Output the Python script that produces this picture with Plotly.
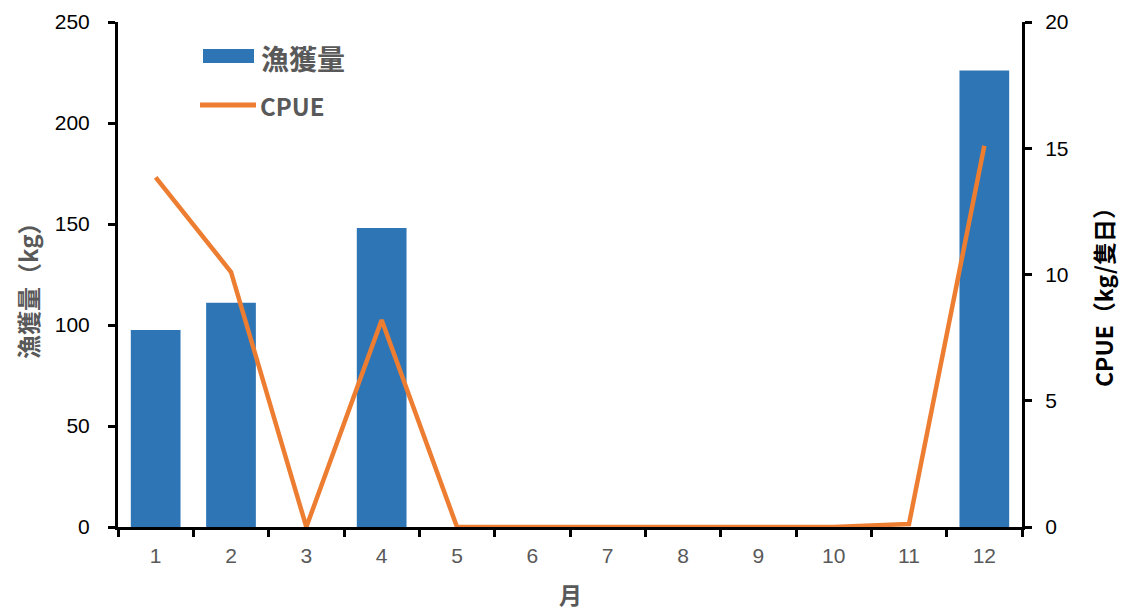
import plotly.graph_objects as go

months = ["1", "2", "3", "4", "5", "6", "7", "8", "9", "10", "11", "12"]
catch_kg = [97.5, 111, 0, 148, 0, 0, 0, 0, 0, 0, 0, 226]
cpue = [13.85, 10.1, 0, 8.2, 0, 0, 0, 0, 0.02, 0, 0.12, 15.1]

BLUE = "#2E75B6"
ORANGE = "#ED7D31"
GRAY = "#595959"
CJK = "Noto Sans CJK TC"
LAT = "Liberation Sans"

L, R, T, B = 118, 99, 22, 84
W, H = 1121, 611
PW, PH = 1022 - 118, 527 - 22


def px(xp):
    return (xp - 118) / PW


def py(yp):
    return (527 - yp) / PH


fig = go.Figure()
fig.add_trace(go.Bar(x=months, y=catch_kg, name="漁獲量", marker_color=BLUE,
                     marker_line_width=0, width=0.66, yaxis="y"))
fig.add_trace(go.Scatter(x=months, y=cpue, name="CPUE", mode="lines",
                         line=dict(color=ORANGE, width=4.5), yaxis="y2"))

fig.update_layout(
    width=W, height=H,
    margin=dict(l=L, r=R, t=T, b=B),
    plot_bgcolor="white", paper_bgcolor="white",
    showlegend=False,
    xaxis=dict(type="category", tickson="boundaries", ticks="outside", ticklen=7,
               tickwidth=3, tickcolor="black", showline=True, linecolor="black",
               linewidth=3, showgrid=False, automargin=False, ticklabelstandoff=8,
               tickfont=dict(family=LAT, size=21, color=GRAY)),
    yaxis=dict(range=[0, 250], dtick=50, ticks="outside", ticklen=7, tickwidth=3,
               tickcolor="black", showline=True, linecolor="black", linewidth=3,
               showgrid=False, zeroline=False, automargin=False, ticklabelstandoff=14,
               tickfont=dict(family=LAT, size=21, color="black")),
    yaxis2=dict(range=[0, 20], dtick=5, overlaying="y", side="right", ticks="outside",
                ticklen=7, tickwidth=3, tickcolor="black", showline=True,
                linecolor="black", linewidth=3, showgrid=False, zeroline=False,
                automargin=False, ticklabelstandoff=9,
                tickfont=dict(family=LAT, size=21, color="black")),
)

# axis titles
fig.add_annotation(xref="paper", yref="paper", x=px(27), y=py(285), textangle=-90,
                   xanchor="center", yanchor="middle", showarrow=False,
                   text="<b>漁獲量（kg）</b>", font=dict(family=CJK, size=24, color=GRAY))
fig.add_annotation(xref="paper", yref="paper", x=px(1103), y=py(292), textangle=-90,
                   xanchor="center", yanchor="middle", showarrow=False,
                   text="<b>CPUE（kg/隻日）</b>",
                   font=dict(family=CJK, size=23, color="black"))
fig.add_annotation(xref="paper", yref="paper", x=px(570), y=py(594),
                   xanchor="center", yanchor="middle", showarrow=False,
                   text="<b>月</b>", font=dict(family=CJK, size=23, color=GRAY))

# custom legend
fig.add_shape(type="rect", xref="paper", yref="paper", x0=px(203), x1=px(254),
              y0=py(63), y1=py(49), fillcolor=BLUE, line_width=0)
fig.add_shape(type="line", xref="paper", yref="paper", x0=px(200), x1=px(256),
              y0=py(105), y1=py(105), line=dict(color=ORANGE, width=5))
fig.add_annotation(xref="paper", yref="paper", x=px(259), y=py(58), xanchor="left",
                   yanchor="middle", showarrow=False, text="<b>漁獲量</b>",
                   font=dict(family=CJK, size=28, color=GRAY))
fig.add_annotation(xref="paper", yref="paper", x=px(258), y=py(105), xanchor="left",
                   yanchor="middle", showarrow=False, text="<b>CPUE</b>",
                   font=dict(family=CJK, size=24, color=GRAY))

fig.write_html(
    "out.html",
    config={"displayModeBar": False},
    post_script="document.body.style.margin='0';document.body.style.overflow='hidden';",
)
